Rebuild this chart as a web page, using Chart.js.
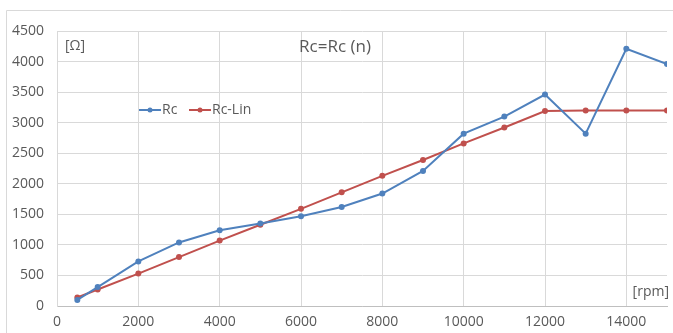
<!DOCTYPE html>
<html>
<head>
<meta charset="utf-8">
<script src="https://cdn.jsdelivr.net/npm/chart.js@4/dist/chart.umd.min.js"></script>
<style>
  html, body { margin: 0; padding: 0; background: #fff; }
  #wrap { width: 673px; height: 333px; }
</style>
</head>
<body>
<div id="wrap"><canvas id="c" width="673" height="333"></canvas></div>
<script>
const rpm = [500, 1000, 2000, 3000, 4000, 5000, 6000, 7000, 8000, 9000, 10000, 11000, 12000, 13000, 14000, 15000];
const rc = [100, 310, 730, 1040, 1240, 1350, 1470, 1620, 1840, 2210, 2820, 3100, 3460, 2820, 4210, 3960];
const rcLin = [140, 270, 530, 800, 1070, 1330, 1590, 1860, 2130, 2390, 2660, 2920, 3190, 3200, 3200, 3200];

const BLUE = '#4F81BD';
const RED = '#C0504D';
const FONT = '"Open Sans", "Liberation Sans", sans-serif';

const pts = (xs, ys) => xs.map((x, i) => ({ x: x, y: ys[i] }));

// draws frame, title, unit labels and the legend inside the plot
const extras = {
  id: 'extras',
  beforeDraw(chart) {
    const ctx = chart.ctx;
    ctx.save();
    ctx.strokeStyle = '#d9d9d9';
    ctx.lineWidth = 1;
    ctx.beginPath();
    ctx.moveTo(6.5, 340);
    ctx.lineTo(6.5, 10.5);
    ctx.lineTo(680, 10.5);
    ctx.stroke();
    ctx.restore();
  },
  afterDraw(chart) {
    const ctx = chart.ctx;
    const a = chart.chartArea;
    ctx.save();
    ctx.fillStyle = '#595959';
    ctx.textBaseline = 'middle';
    ctx.font = '17px ' + FONT;
    ctx.textAlign = 'center';
    ctx.fillText('Rc=Rc (n)', 335, 47);
    ctx.font = '14px ' + FONT;
    ctx.textAlign = 'left';
    ctx.fillText('[\u03A9]', a.left + 8, 46);
    ctx.textAlign = 'right';
    ctx.fillText('[rpm]', a.right + 2, 292);

    // legend
    const items = [['Rc', BLUE, 139], ['Rc-Lin', RED, 189]];
    const ly = 110;
    ctx.textAlign = 'left';
    items.forEach(([label, col, x]) => {
      ctx.strokeStyle = col;
      ctx.lineWidth = 2;
      ctx.beginPath();
      ctx.moveTo(x, ly);
      ctx.lineTo(x + 22, ly);
      ctx.stroke();
      ctx.fillStyle = col;
      ctx.beginPath();
      ctx.arc(x + 11, ly, 2.5, 0, Math.PI * 2);
      ctx.fill();
      ctx.fillStyle = '#595959';
      ctx.fillText(label, x + 23, ly);
    });
    ctx.restore();
  }
};

new Chart(document.getElementById('c'), {
  type: 'line',
  data: {
    datasets: [
      {
        label: 'Rc',
        data: pts(rpm, rc),
        borderColor: BLUE,
        backgroundColor: BLUE,
        borderWidth: 2,
        pointRadius: 3,
        pointBorderWidth: 0,
        tension: 0
      },
      {
        label: 'Rc-Lin',
        data: pts(rpm, rcLin),
        borderColor: RED,
        backgroundColor: RED,
        borderWidth: 2,
        pointRadius: 3,
        pointBorderWidth: 0,
        tension: 0
      }
    ]
  },
  options: {
    responsive: false,
    animation: false,
    layout: { padding: { top: 31, right: 6, left: 0, bottom: 0 } },
    plugins: {
      legend: { display: false },
      tooltip: { enabled: false }
    },
    scales: {
      x: {
        type: 'linear',
        min: 0,
        max: 15000,
        afterBuildTicks(scale) {
          scale.ticks = [0, 2000, 4000, 6000, 8000, 10000, 12000, 14000].map(v => ({ value: v }));
        },
        afterFit(scale) { scale.height = 27; },
        grid: { color: '#d9d9d9', drawTicks: false },
        border: { color: '#bfbfbf' },
        ticks: {
          color: '#595959',
          font: { family: FONT, size: 14 },
          padding: 8,
          maxRotation: 0,
          callback: v => String(v)
        }
      },
      y: {
        min: 0,
        max: 4500,
        afterFit(scale) { scale.width = 57; },
        grid: { color: '#d9d9d9', drawTicks: false },
        border: { color: '#d9d9d9' },
        ticks: {
          stepSize: 500,
          color: '#595959',
          font: { family: FONT, size: 14 },
          padding: 13,
          callback: v => String(v)
        }
      }
    }
  },
  plugins: [extras]
});
</script>
</body>
</html>
